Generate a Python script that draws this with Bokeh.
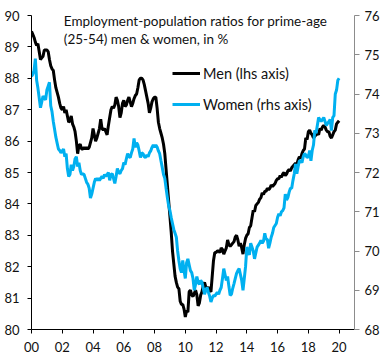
import numpy as np
from bokeh.plotting import figure
from bokeh.models import (Range1d, LinearAxis, FixedTicker, Label, Legend, LegendItem)
from bokeh.embed import file_html
from bokeh.resources import INLINE

# ---------------- data (monthly, Jan 2000 .. Jan 2020) ----------------
start_year = 2000
men = [
    89.5, 89.4, 89.3, 89.15, 89.05, 89.1, 88.85, 88.6, 88.65, 88.7, 88.9, 88.9,      # 2000
    88.9, 88.85, 88.6, 88.4, 88.3, 88.25, 87.95, 87.7, 87.55, 87.4, 87.2, 87.05,     # 2001
    87.0, 87.1, 86.9, 87.0, 86.8, 86.6, 86.65, 86.8, 86.55, 86.45, 86.3, 86.0,       # 2002
    85.6, 85.85, 85.9, 85.75, 85.75, 85.8, 85.75, 85.8, 85.75, 85.8, 85.95, 86.1,    # 2003
    86.4, 86.2, 86.0, 86.1, 86.25, 86.4, 86.7, 86.4, 86.35, 86.4, 86.3, 86.2,        # 2004
    86.5, 86.75, 87.0, 87.1, 87.05, 87.15, 87.4, 87.3, 87.1, 86.75, 86.9, 87.2,      # 2005
    87.3, 87.1, 87.15, 87.3, 87.4, 87.25, 87.1, 87.2, 87.35, 87.45, 87.5, 87.7,      # 2006
    87.95, 88.0, 88.0, 87.95, 87.8, 87.6, 87.4, 87.2, 86.9, 87.05, 87.25, 87.35,     # 2007
    87.4, 87.4, 87.05, 86.6, 86.4, 86.25, 86.1, 85.9, 85.6, 85.1, 84.6, 84.1,        # 2008
    83.6, 83.1, 82.5, 82.1, 81.7, 81.5, 81.35, 81.3, 80.9, 80.8, 80.8, 80.65,        # 2009
    80.4, 80.6, 80.55, 81.2, 81.25, 81.1, 81.05, 81.15, 81.25, 81.1, 80.75, 80.85,   # 2010
    81.1, 81.2, 81.4, 81.5, 81.35, 81.3, 81.35, 81.25, 81.2, 81.7, 82.2, 82.45,      # 2011
    82.45, 82.5, 82.5, 82.45, 82.6, 82.55, 82.4, 82.5, 82.6, 82.85, 82.7, 82.65,    # 2012
    82.7, 82.75, 82.8, 82.95, 83.0, 82.85, 82.65, 82.75, 82.6, 82.4, 82.7, 82.9,    # 2013
    83.0, 83.05, 83.25, 83.3, 83.55, 83.8, 83.75, 83.95, 84.0, 84.05, 84.15, 84.2,  # 2014
    84.35, 84.3, 84.4, 84.4, 84.5, 84.45, 84.5, 84.6, 84.55, 84.6, 84.65, 84.75,    # 2015
    84.8, 84.8, 84.9, 84.85, 84.95, 85.0, 84.9, 84.95, 85.05, 85.1, 85.05, 85.15,   # 2016
    85.2, 85.25, 85.3, 85.25, 85.4, 85.5, 85.45, 85.6, 85.7, 85.75, 86.1, 86.05,    # 2017
    86.3, 86.35, 86.25, 86.2, 86.1, 86.15, 86.2, 86.25, 86.2, 86.4, 86.35, 86.45,   # 2018
    86.5, 86.45, 86.35, 86.3, 86.3, 86.15, 86.1, 86.2, 86.3, 86.35, 86.55, 86.6,    # 2019
    86.65,                                                                          # 2020
]
women = [
    74.45, 74.5, 74.6, 74.9, 74.35, 74.15, 73.9, 73.65, 73.8, 73.95, 73.9, 73.85,   # 2000
    74.1, 74.2, 74.3, 73.7, 73.55, 73.3, 73.1, 72.9, 72.75, 72.6, 72.56, 72.5,      # 2001
    72.55, 72.6, 72.4, 72.48, 72.1, 71.9, 71.95, 72.2, 72.05, 72.15, 72.35, 72.4,   # 2002
    72.15, 72.25, 72.05, 71.95, 71.97, 71.95, 71.85, 71.75, 71.7, 71.6, 71.35, 71.45,  # 2003
    71.6, 71.75, 71.85, 71.8, 71.85, 71.8, 71.85, 71.9, 71.85, 71.95, 71.9, 71.95,  # 2004
    72.0, 71.8, 71.95, 71.97, 71.85, 71.72, 71.9, 72.1, 72.0, 71.97, 72.05, 72.1,   # 2005
    72.25, 72.2, 72.35, 72.48, 72.4, 72.38, 72.5, 72.6, 72.87, 72.64, 72.76, 72.7,  # 2006
    72.55, 72.38, 72.5, 72.48, 72.4, 72.38, 72.45, 72.4, 72.5, 72.55, 72.64, 72.7,  # 2007
    72.64, 72.7, 72.65, 72.55, 72.48, 72.3, 72.13, 71.95, 71.85, 71.6, 71.36, 71.15,  # 2008
    71.03, 70.85, 70.7, 70.55, 70.45, 70.35, 70.0, 69.75, 69.55, 69.45, 69.76, 69.5,  # 2009
    69.3, 69.7, 69.8, 69.65, 69.5, 69.45, 69.3, 69.0, 69.15, 69.35, 69.2, 69.15,    # 2010
    69.25, 69.2, 69.05, 68.9, 69.0, 69.07, 68.95, 68.85, 68.7, 68.8, 68.87, 68.85,  # 2011
    68.9, 68.95, 68.9, 69.0, 69.07, 69.3, 69.55, 69.4, 69.25, 69.35, 69.1, 68.87,   # 2012
    68.9, 69.05, 69.17, 69.3, 69.43, 69.5, 69.55, 69.4, 69.25, 69.0, 69.3, 69.6,    # 2013
    70.1, 70.0, 69.9, 70.2, 70.1, 70.0, 69.8, 69.95, 70.1, 70.15, 70.2, 70.27,      # 2014
    70.2, 70.25, 70.45, 70.3, 70.3, 70.07, 70.2, 70.35, 70.45, 70.6, 70.65, 70.7,   # 2015
    70.86, 70.95, 70.9, 71.0, 71.03, 71.1, 71.45, 71.3, 71.36, 71.5, 71.6, 71.6,    # 2016
    71.8, 71.97, 72.22, 71.97, 72.15, 72.3, 72.3, 72.25, 72.4, 72.48, 72.45, 72.38,  # 2017
    72.4, 72.56, 72.3, 72.56, 72.7, 73.07, 73.0, 73.2, 73.4, 73.35, 73.3, 73.35,    # 2018
    73.4, 73.3, 73.2, 73.25, 73.3, 73.35, 73.07, 73.4, 73.45, 74.0, 74.1, 74.35,    # 2019
    74.4,                                                                           # 2020
]
x_tick_years = [2000, 2002, 2004, 2006, 2008, 2010, 2012, 2014, 2016, 2018, 2020]
x_tick_labels = ["00", "02", "04", "06", "08", "10", "12", "14", "16", "18", "20"]
lhs_ticks = [80, 81, 82, 83, 84, 85, 86, 87, 88, 89, 90]
rhs_ticks = [68, 69, 70, 71, 72, 73, 74, 75, 76]
title_lines = ["Employment-population ratios for prime-age", "(25-54) men & women, in %"]
series_names = ["Men (lhs axis)", "Women (rhs axis)"]

months = start_year + np.arange(len(men)) / 12.0

FONT = "Lato"
BLUE = "#00B0F0"
TXT = "#111111"

p = figure(width=385, height=360, x_range=Range1d(2000, 2021), y_range=Range1d(80, 90),
           output_backend="svg", toolbar_location=None,
           min_border_left=31, min_border_right=31, min_border_top=15, min_border_bottom=31)
p.extra_y_ranges = {"rhs": Range1d(68, 76)}
p.xgrid.visible = False
p.ygrid.visible = False
p.outline_line_color = None
p.background_fill_color = "white"
p.border_fill_color = "white"

r_men = p.line(months, men, line_color="black", line_width=3)
r_women = p.line(months, women, line_color=BLUE, line_width=3, y_range_name="rhs")

# left axis
ly = p.yaxis[0]
ly.ticker = FixedTicker(ticks=lhs_ticks)
ly.axis_line_color = "black"
ly.major_tick_line_color = "black"
ly.major_tick_out = 4
ly.major_tick_in = 0
ly.minor_tick_line_color = None
ly.major_label_standoff = 8
ly.major_label_text_font = FONT
ly.major_label_text_font_size = "13px"
ly.major_label_text_color = TXT

# right axis
ry = LinearAxis(y_range_name="rhs", ticker=FixedTicker(ticks=rhs_ticks))
ry.axis_line_color = "#8c8c8c"
ry.major_tick_line_color = "#8c8c8c"
ry.major_tick_out = 5
ry.major_tick_in = 0
ry.minor_tick_line_color = None
ry.major_label_standoff = 5
ry.major_label_text_font = FONT
ry.major_label_text_font_size = "13px"
ry.major_label_text_color = TXT
p.add_layout(ry, "right")

# bottom axis
bx = p.xaxis[0]
bx.ticker = FixedTicker(ticks=x_tick_years)
bx.major_label_overrides = {y: lab for y, lab in zip(x_tick_years, x_tick_labels)}
bx.axis_line_color = "black"
bx.major_tick_line_color = "black"
bx.major_tick_out = 4
bx.major_tick_in = 0
bx.minor_tick_line_color = None
bx.major_label_standoff = 8
bx.major_label_text_font = FONT
bx.major_label_text_font_size = "13px"
bx.major_label_text_color = TXT

# title (two lines, inside plot area)
title_x = 2002.1
title_y = [89.83, 89.25]
for line, ty in zip(title_lines, title_y):
    p.add_layout(Label(x=title_x, y=ty, text=line, text_font=FONT, text_font_size="13.5px",
                       text_color=TXT, text_baseline="middle", text_align="left"))

legend = Legend(items=[LegendItem(label=series_names[0], renderers=[r_men]),
                       LegendItem(label=series_names[1], renderers=[r_women])],
                location=(141, 215), orientation="vertical",
                padding=0, margin=0, spacing=11,
                glyph_width=28, glyph_height=20, label_height=20, label_standoff=3,
                label_text_font=FONT, label_text_font_size="14.5px", label_text_color=TXT,
                border_line_color=None, background_fill_alpha=0)
p.add_layout(legend, "center")

open("out.html", "w").write(file_html(p, INLINE))
